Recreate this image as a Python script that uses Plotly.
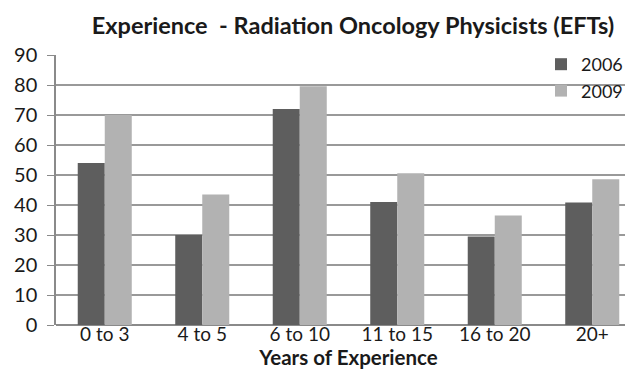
import plotly.graph_objects as go

categories = ["0 to 3", "4 to 5", "6 to 10", "11 to 15", "16 to 20", "20+"]
values_2006 = [54, 30, 72, 41, 29.5, 40.8]
values_2009 = [70, 43.5, 79.6, 50.6, 36.5, 48.6]
y_ticks = [0, 10, 20, 30, 40, 50, 60, 70, 80, 90]

FONT = "Lato"
L, T, B = 48, 47, 54
W, H = 633, 371
PW = W - L

fig = go.Figure()
fig.add_trace(go.Bar(name="2006", x=categories, y=values_2006,
                     marker=dict(color="#5e5e5e", line=dict(width=0))))
fig.add_trace(go.Bar(name="2009", x=categories, y=values_2009,
                     marker=dict(color="#b2b2b2", line=dict(width=0))))

fig.update_layout(
    width=W, height=H,
    margin=dict(l=L, r=0, t=T, b=B, autoexpand=False),
    paper_bgcolor="white", plot_bgcolor="white",
    barmode="group", bargap=0.446, bargroupgap=0,
    font=dict(family=FONT, color="#1a1a1a", size=18),
    title=dict(text="<b>Experience  - Radiation Oncology Physicists (EFTs)</b>",
               x=345/W, xanchor="center", xref="container",
               y=1 - 18/H, yanchor="middle", yref="container",
               font=dict(family=FONT, size=23.5, color="#1a1a1a")),
    showlegend=True,
    legend=dict(x=(533 - L)/PW, xanchor="left", y=1 - (38 - T)/(H - T - B), yanchor="top",
                bgcolor="rgba(0,0,0,0)", font=dict(size=18, family=FONT),
                itemwidth=30, tracegroupgap=0),
    xaxis=dict(showline=False, ticks="", tickfont=dict(size=19, family=FONT),
               ticklabelstandoff=-4,
               title=dict(text="<b>Years of Experience</b>", standoff=3,
                          font=dict(size=20.5, family=FONT))),
    yaxis=dict(range=[0, 90], tickvals=y_ticks, showgrid=True,
               gridcolor="#999999", gridwidth=1.5,
               showline=True, linecolor="#8a8a8a", linewidth=1.5,
               ticks="outside", ticklen=7, tickcolor="#8a8a8a",
               ticklabelstandoff=6,
               tickfont=dict(size=20, family=FONT),
               zeroline=True, zerolinecolor="#8a8a8a", zerolinewidth=1.5),
)

fig.write_html("out.html")
